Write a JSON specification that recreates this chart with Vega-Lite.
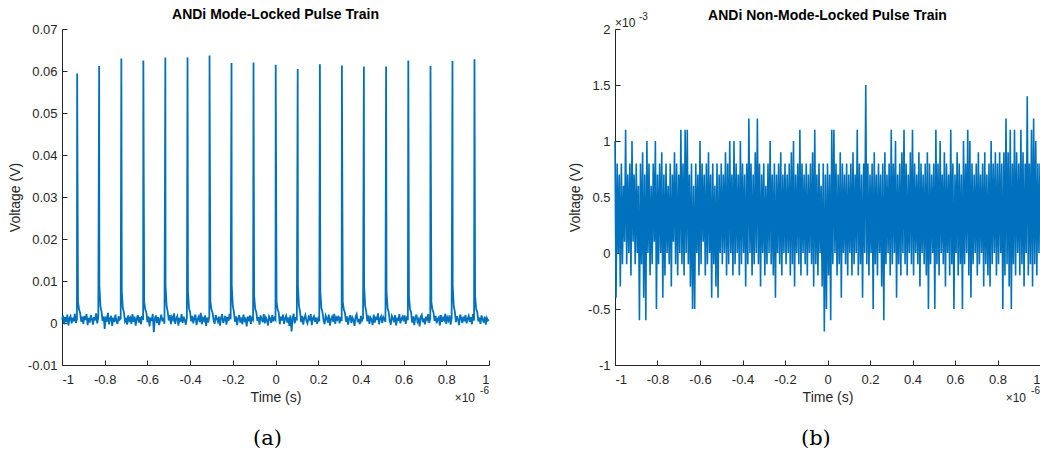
{
"$schema": "https://vega.github.io/schema/vega-lite/v6.json",
"background": "white",
"padding": {"left": 8, "top": 8, "right": 0, "bottom": 0},
"spacing": 75,
"config": {
 "view": {"stroke": null},
 "font": "Liberation Sans",
 "axis": {"grid": false, "domainColor": "#262626", "tickColor": "#262626", "labelColor": "#262626", "titleColor": "#262626", "labelFont": "Liberation Sans", "titleFont": "Liberation Sans", "labelFontSize": 13, "titleFontSize": 14, "titleFontWeight": "normal", "tickSize": -5, "domainWidth": 1, "tickWidth": 1},
 "axisX": {"labelPadding": 13, "titlePadding": 4},
 "axisY": {"labelPadding": 10, "titlePadding": 5}
},
"datasets": {
 "a": [
{"t":-1,"v":0.0008},{"t":-0.995,"v":0.0018},{"t":-0.99,"v":-0.0003},{"t":-0.985,"v":0.0014},{"t":-0.98,"v":0.0002},{"t":-0.975,"v":0.002},{"t":-0.97,"v":-0.0006},{"t":-0.965,"v":0.0011},{"t":-0.96,"v":0.0016},{"t":-0.955,"v":-0.0001},{"t":-0.95,"v":0.0013},{"t":-0.945,"v":0.0004},{"t":-0.94,"v":0.0022},{"t":-0.935,"v":0},{"t":-0.93,"v":0.0009},{"t":-0.929,"v":0.0594},{"t":-0.925,"v":0.005},{"t":-0.92,"v":0.0032},{"t":-0.915,"v":0.0024},{"t":-0.91,"v":0.0003},{"t":-0.905,"v":0.0015},
{"t":-0.9,"v":-0.0002},{"t":-0.895,"v":0.0017},{"t":-0.89,"v":0.0007},{"t":-0.885,"v":0.0021},{"t":-0.88,"v":-0.0005},{"t":-0.875,"v":0.0012},{"t":-0.87,"v":0.0001},{"t":-0.865,"v":0.0019},{"t":-0.86,"v":0.001},{"t":-0.855,"v":-0.0004},{"t":-0.85,"v":0.0014},{"t":-0.845,"v":0.0006},{"t":-0.84,"v":0.0023},{"t":-0.835,"v":-0.0001},{"t":-0.83,"v":0.0012},{"t":-0.826,"v":0.0612},{"t":-0.825,"v":0.009},{"t":-0.82,"v":0.004},{"t":-0.815,"v":0.0027},{"t":-0.81,"v":0.0005},{"t":-0.805,"v":0.0016},
{"t":-0.8,"v":-0.0014},{"t":-0.795,"v":0.0015},{"t":-0.79,"v":0.0003},{"t":-0.785,"v":0.0024},{"t":-0.78,"v":-0.0003},{"t":-0.775,"v":0.001},{"t":-0.77,"v":0.0017},{"t":-0.765,"v":-0.0007},{"t":-0.76,"v":0.0013},{"t":-0.755,"v":0.0002},{"t":-0.75,"v":0.002},{"t":-0.745,"v":0.0005},{"t":-0.74,"v":-0.0002},{"t":-0.735,"v":0.0016},{"t":-0.73,"v":0.0008},{"t":-0.725,"v":0.0011},{"t":-0.722,"v":0.063},{"t":-0.72,"v":0.0075},{"t":-0.715,"v":0.0035},{"t":-0.71,"v":0.0026},{"t":-0.705,"v":0.0004},
{"t":-0.7,"v":0.0009},{"t":-0.695,"v":-0.0004},{"t":-0.69,"v":0.0018},{"t":-0.685,"v":0.0006},{"t":-0.68,"v":0.0012},{"t":-0.675,"v":-0.0002},{"t":-0.67,"v":0.0021},{"t":-0.665,"v":0.0003},{"t":-0.66,"v":0.0015},{"t":-0.655,"v":-0.0006},{"t":-0.65,"v":0.001},{"t":-0.645,"v":0.0019},{"t":-0.64,"v":0.0001},{"t":-0.635,"v":0.0014},{"t":-0.63,"v":-0.0003},{"t":-0.625,"v":0.0017},{"t":-0.62,"v":0.0007},{"t":-0.619,"v":0.0625},{"t":-0.615,"v":0.005},{"t":-0.61,"v":0.0032},{"t":-0.605,"v":0.0025},
{"t":-0.6,"v":0.0002},{"t":-0.595,"v":0.0016},{"t":-0.59,"v":-0.0008},{"t":-0.585,"v":0.0013},{"t":-0.58,"v":0.0005},{"t":-0.575,"v":0.0022},{"t":-0.57,"v":-0.0022},{"t":-0.565,"v":0.0011},{"t":-0.56,"v":0.0018},{"t":-0.555,"v":0},{"t":-0.55,"v":0.0014},{"t":-0.545,"v":-0.0005},{"t":-0.54,"v":0.0009},{"t":-0.535,"v":0.002},{"t":-0.53,"v":0.0004},{"t":-0.525,"v":0.0012},{"t":-0.52,"v":-0.0002},{"t":-0.516,"v":0.0632},{"t":-0.515,"v":0.009},{"t":-0.51,"v":0.004},{"t":-0.505,"v":0.0027},
{"t":-0.5,"v":0.0006},{"t":-0.495,"v":0.0019},{"t":-0.49,"v":-0.0003},{"t":-0.485,"v":0.0014},{"t":-0.48,"v":0.0008},{"t":-0.475,"v":0.0023},{"t":-0.47,"v":-0.0002},{"t":-0.465,"v":0.001},{"t":-0.46,"v":0.0016},{"t":-0.455,"v":-0.0006},{"t":-0.45,"v":0.0012},{"t":-0.445,"v":0.0003},{"t":-0.44,"v":0.0021},{"t":-0.435,"v":0},{"t":-0.43,"v":0.0015},{"t":-0.425,"v":0.0007},{"t":-0.42,"v":-0.0004},{"t":-0.415,"v":0.0013},{"t":-0.412,"v":0.0632},{"t":-0.41,"v":0.0075},{"t":-0.405,"v":0.0035},
{"t":-0.4,"v":0.0026},{"t":-0.395,"v":0.0004},{"t":-0.39,"v":0.0017},{"t":-0.385,"v":-0.0001},{"t":-0.38,"v":0.0012},{"t":-0.375,"v":0.002},{"t":-0.37,"v":-0.0005},{"t":-0.365,"v":0.0009},{"t":-0.36,"v":0.0015},{"t":-0.355,"v":0.0002},{"t":-0.35,"v":0.0024},{"t":-0.345,"v":-0.0003},{"t":-0.34,"v":0.0011},{"t":-0.335,"v":0.0006},{"t":-0.33,"v":0.0018},{"t":-0.325,"v":-0.0007},{"t":-0.32,"v":0.0013},{"t":-0.315,"v":0.0001},{"t":-0.31,"v":0.0016},{"t":-0.309,"v":0.0637},{"t":-0.305,"v":0.005},
{"t":-0.3,"v":0.0032},{"t":-0.295,"v":0.0025},{"t":-0.29,"v":0.0007},{"t":-0.285,"v":-0.0002},{"t":-0.28,"v":0.0019},{"t":-0.275,"v":0.001},{"t":-0.27,"v":0.0003},{"t":-0.265,"v":0.0015},{"t":-0.26,"v":-0.0006},{"t":-0.255,"v":0.0012},{"t":-0.25,"v":0.0021},{"t":-0.245,"v":0},{"t":-0.24,"v":0.0008},{"t":-0.235,"v":0.0017},{"t":-0.23,"v":-0.0004},{"t":-0.225,"v":0.0014},{"t":-0.22,"v":0.0005},{"t":-0.215,"v":0.0022},{"t":-0.21,"v":0.0009},{"t":-0.206,"v":0.0619},{"t":-0.205,"v":0.009},
{"t":-0.2,"v":0.004},{"t":-0.195,"v":0.0027},{"t":-0.19,"v":0.0003},{"t":-0.185,"v":0.0016},{"t":-0.18,"v":-0.0005},{"t":-0.175,"v":0.0011},{"t":-0.17,"v":0.0019},{"t":-0.165,"v":0.0001},{"t":-0.16,"v":0.0013},{"t":-0.155,"v":-0.0003},{"t":-0.15,"v":0.002},{"t":-0.145,"v":0.0006},{"t":-0.14,"v":0.001},{"t":-0.135,"v":-0.0008},{"t":-0.13,"v":0.0015},{"t":-0.125,"v":0.0004},{"t":-0.12,"v":0.0018},{"t":-0.115,"v":-0.0002},{"t":-0.11,"v":0.0012},{"t":-0.105,"v":0.0008},{"t":-0.103,"v":0.062},
{"t":-0.1,"v":0.0065},{"t":-0.095,"v":0.0033},{"t":-0.09,"v":0.0026},{"t":-0.085,"v":0.0005},{"t":-0.08,"v":0.0014},{"t":-0.075,"v":-0.0004},{"t":-0.07,"v":0.0018},{"t":-0.065,"v":0.0009},{"t":-0.06,"v":0.0002},{"t":-0.055,"v":0.0021},{"t":-0.05,"v":-0.0001},{"t":-0.045,"v":0.0013},{"t":-0.04,"v":0.0007},{"t":-0.035,"v":-0.0006},{"t":-0.03,"v":0.0016},{"t":-0.025,"v":0.0011},{"t":-0.02,"v":0},{"t":-0.015,"v":0.0019},{"t":-0.01,"v":0.0004},{"t":-0.005,"v":0.0012},
{"t":0,"v":0.0008},{"t":0.001,"v":0.0615},{"t":0.005,"v":0.005},{"t":0.01,"v":0.0032},{"t":0.015,"v":0.0025},{"t":0.02,"v":-0.0003},{"t":0.025,"v":0.0015},{"t":0.03,"v":0.0006},{"t":0.035,"v":0.002},{"t":0.04,"v":-0.0002},{"t":0.045,"v":0.0011},{"t":0.05,"v":0.0017},{"t":0.055,"v":0.0001},{"t":0.06,"v":0.0013},{"t":0.065,"v":-0.0007},{"t":0.07,"v":0.0018},{"t":0.075,"v":-0.002},{"t":0.08,"v":0.001},{"t":0.085,"v":0.0022},{"t":0.09,"v":-0.0001},{"t":0.095,"v":0.0014},
{"t":0.1,"v":0.0006},{"t":0.104,"v":0.0605},{"t":0.105,"v":0.009},{"t":0.11,"v":0.004},{"t":0.115,"v":0.0027},{"t":0.12,"v":0.0002},{"t":0.125,"v":0.0017},{"t":0.13,"v":-0.0004},{"t":0.135,"v":0.0012},{"t":0.14,"v":0.0019},{"t":0.145,"v":0.0005},{"t":0.15,"v":-0.0001},{"t":0.155,"v":0.0014},{"t":0.16,"v":0.0009},{"t":0.165,"v":0.0021},{"t":0.17,"v":-0.0005},{"t":0.175,"v":0.0011},{"t":0.18,"v":0.0016},{"t":0.185,"v":0.0003},{"t":0.19,"v":0.0013},{"t":0.195,"v":-0.0002},
{"t":0.2,"v":0.001},{"t":0.205,"v":0.0004},{"t":0.208,"v":0.0616},{"t":0.21,"v":0.0075},{"t":0.215,"v":0.0035},{"t":0.22,"v":0.0026},{"t":0.225,"v":0.0007},{"t":0.23,"v":-0.0003},{"t":0.235,"v":0.0018},{"t":0.24,"v":0.0012},{"t":0.245,"v":0.0001},{"t":0.25,"v":0.002},{"t":0.255,"v":-0.0006},{"t":0.26,"v":0.0009},{"t":0.265,"v":0.0015},{"t":0.27,"v":0.0003},{"t":0.275,"v":0.0022},{"t":0.28,"v":-0.0002},{"t":0.285,"v":0.0013},{"t":0.29,"v":0.0008},{"t":0.295,"v":0.0017},
{"t":0.3,"v":-0.0001},{"t":0.305,"v":0.0014},{"t":0.31,"v":0.0005},{"t":0.311,"v":0.0613},{"t":0.315,"v":0.005},{"t":0.32,"v":0.0032},{"t":0.325,"v":0.0025},{"t":0.33,"v":0.0003},{"t":0.335,"v":0.0016},{"t":0.34,"v":-0.0004},{"t":0.345,"v":0.0011},{"t":0.35,"v":0.0019},{"t":0.355,"v":0},{"t":0.36,"v":0.0013},{"t":0.365,"v":0.0007},{"t":0.37,"v":-0.0007},{"t":0.375,"v":0.0015},{"t":0.38,"v":0.0021},{"t":0.385,"v":0.0002},{"t":0.39,"v":0.001},{"t":0.395,"v":-0.0003},
{"t":0.4,"v":0.0017},{"t":0.405,"v":0.0006},{"t":0.41,"v":0.0012},{"t":0.414,"v":0.0611},{"t":0.415,"v":0.009},{"t":0.42,"v":0.004},{"t":0.425,"v":0.0027},{"t":0.43,"v":0.0004},{"t":0.435,"v":0.0018},{"t":0.44,"v":-0.0002},{"t":0.445,"v":0.0013},{"t":0.45,"v":0.0009},{"t":0.455,"v":-0.0005},{"t":0.46,"v":0.002},{"t":0.465,"v":0.0001},{"t":0.47,"v":0.0015},{"t":0.475,"v":0.0007},{"t":0.48,"v":0.0023},{"t":0.485,"v":-0.0003},{"t":0.49,"v":0.0011},{"t":0.495,"v":0.0016},
{"t":0.5,"v":0},{"t":0.505,"v":0.0014},{"t":0.51,"v":0.0008},{"t":0.515,"v":0.0003},{"t":0.518,"v":0.0611},{"t":0.52,"v":0.0075},{"t":0.525,"v":0.0035},{"t":0.53,"v":0.0026},{"t":0.535,"v":0.0006},{"t":0.54,"v":-0.0004},{"t":0.545,"v":0.0017},{"t":0.55,"v":0.0011},{"t":0.555,"v":0.0002},{"t":0.56,"v":0.0019},{"t":0.565,"v":-0.0006},{"t":0.57,"v":0.0013},{"t":0.575,"v":0.0005},{"t":0.58,"v":0.0021},{"t":0.585,"v":-0.0001},{"t":0.59,"v":0.001},{"t":0.595,"v":0.0015},
{"t":0.6,"v":0.0004},{"t":0.605,"v":0.0018},{"t":0.61,"v":-0.0002},{"t":0.615,"v":0.0012},{"t":0.62,"v":0.0007},{"t":0.622,"v":0.0625},{"t":0.625,"v":0.0065},{"t":0.63,"v":0.0033},{"t":0.635,"v":0.0026},{"t":0.64,"v":0.0001},{"t":0.645,"v":0.0016},{"t":0.65,"v":-0.0005},{"t":0.655,"v":0.0013},{"t":0.66,"v":0.002},{"t":0.665,"v":0.0003},{"t":0.67,"v":0.0009},{"t":0.675,"v":-0.0008},{"t":0.68,"v":0.0014},{"t":0.685,"v":0.0019},{"t":0.69,"v":0.0002},{"t":0.695,"v":0.0011},
{"t":0.7,"v":-0.0003},{"t":0.705,"v":0.0015},{"t":0.71,"v":0.0008},{"t":0.715,"v":0.0021},{"t":0.72,"v":0},{"t":0.725,"v":0.0012},{"t":0.726,"v":0.0612},{"t":0.73,"v":0.005},{"t":0.735,"v":0.0032},{"t":0.74,"v":0.0025},{"t":0.745,"v":0.0005},{"t":0.75,"v":0.0017},{"t":0.755,"v":-0.0001},{"t":0.76,"v":0.001},{"t":0.765,"v":0.0014},{"t":0.77,"v":-0.0006},{"t":0.775,"v":0.0019},{"t":0.78,"v":0.0003},{"t":0.785,"v":0.0012},{"t":0.79,"v":0.0007},{"t":0.795,"v":0.0022},
{"t":0.8,"v":-0.0002},{"t":0.805,"v":0.0013},{"t":0.81,"v":0.0006},{"t":0.815,"v":0.0018},{"t":0.82,"v":-0.0004},{"t":0.825,"v":0.0011},{"t":0.829,"v":0.0624},{"t":0.83,"v":0.009},{"t":0.835,"v":0.004},{"t":0.84,"v":0.0027},{"t":0.845,"v":0.0002},{"t":0.85,"v":0.0016},{"t":0.855,"v":0.0008},{"t":0.86,"v":-0.0005},{"t":0.865,"v":0.002},{"t":0.87,"v":0.0012},{"t":0.875,"v":0},{"t":0.88,"v":0.0015},{"t":0.885,"v":0.0004},{"t":0.89,"v":0.0019},{"t":0.895,"v":-0.0001},
{"t":0.9,"v":0.001},{"t":0.905,"v":0.0017},{"t":0.91,"v":0.0003},{"t":0.915,"v":0.0014},{"t":0.92,"v":-0.0003},{"t":0.925,"v":0.0021},{"t":0.93,"v":0.0006},{"t":0.932,"v":0.0628},{"t":0.935,"v":0.0065},{"t":0.94,"v":0.0033},{"t":0.945,"v":0.0026},{"t":0.95,"v":0.0004},{"t":0.955,"v":0.0013},{"t":0.96,"v":-0.0002},{"t":0.965,"v":0.0018},{"t":0.97,"v":0.0009},{"t":0.975,"v":0.0001},{"t":0.98,"v":0.0015},{"t":0.985,"v":-0.0004},{"t":0.99,"v":0.0012},{"t":0.995,"v":0.0006},{"t":1,"v":0.0008}
 ],
 "b": [
{"t":-1,"v":1.0},{"t":-0.995,"v":-0.4},{"t":-0.99,"v":0.8},{"t":-0.985,"v":0},{"t":-0.98,"v":0.7},{"t":-0.975,"v":-0.3},{"t":-0.97,"v":0.8},{"t":-0.965,"v":-0.1},{"t":-0.96,"v":0.6},{"t":-0.955,"v":0.1},{"t":-0.95,"v":1.1},{"t":-0.945,"v":-0.1},{"t":-0.94,"v":0.7},{"t":-0.935,"v":0},{"t":-0.93,"v":0.8},{"t":-0.925,"v":-0.2},{"t":-0.92,"v":1.0},{"t":-0.915,"v":0.1},{"t":-0.91,"v":0.7},{"t":-0.905,"v":-0.1},
{"t":-0.9,"v":0.8},{"t":-0.895,"v":0},{"t":-0.89,"v":0.6},{"t":-0.885,"v":-0.6},{"t":-0.88,"v":0.8},{"t":-0.875,"v":-0.1},{"t":-0.87,"v":0.9},{"t":-0.865,"v":-0.4},{"t":-0.86,"v":0.7},{"t":-0.855,"v":-0.6},{"t":-0.85,"v":1.0},{"t":-0.845,"v":0},{"t":-0.84,"v":0.8},{"t":-0.835,"v":-0.2},{"t":-0.83,"v":0.6},{"t":-0.825,"v":-0.1},{"t":-0.82,"v":0.8},{"t":-0.815,"v":0.1},{"t":-0.81,"v":1.0},{"t":-0.805,"v":-0.5},
{"t":-0.8,"v":0.7},{"t":-0.795,"v":-0.1},{"t":-0.79,"v":0.8},{"t":-0.785,"v":0},{"t":-0.78,"v":0.9},{"t":-0.775,"v":-0.4},{"t":-0.77,"v":0.7},{"t":-0.765,"v":-0.2},{"t":-0.76,"v":0.8},{"t":-0.755,"v":0},{"t":-0.75,"v":0.6},{"t":-0.745,"v":-0.1},{"t":-0.74,"v":0.8},{"t":-0.735,"v":-0.3},{"t":-0.73,"v":0.7},{"t":-0.725,"v":0.1},{"t":-0.72,"v":0.9},{"t":-0.715,"v":-0.1},{"t":-0.71,"v":0.8},{"t":-0.705,"v":-0.2},
{"t":-0.7,"v":0.7},{"t":-0.695,"v":0},{"t":-0.69,"v":1.1},{"t":-0.685,"v":-0.1},{"t":-0.68,"v":0.8},{"t":-0.675,"v":-0.2},{"t":-0.67,"v":1.1},{"t":-0.665,"v":0},{"t":-0.66,"v":1.1},{"t":-0.655,"v":-0.1},{"t":-0.65,"v":0.7},{"t":-0.645,"v":-0.3},{"t":-0.64,"v":0.8},{"t":-0.635,"v":-0.5},{"t":-0.63,"v":0.6},{"t":-0.625,"v":-0.5},{"t":-0.62,"v":0.8},{"t":-0.615,"v":0},{"t":-0.61,"v":0.7},{"t":-0.605,"v":-0.2},
{"t":-0.6,"v":1.0},{"t":-0.595,"v":-0.1},{"t":-0.59,"v":0.8},{"t":-0.585,"v":0.1},{"t":-0.58,"v":0.7},{"t":-0.575,"v":-0.2},{"t":-0.57,"v":0.8},{"t":-0.565,"v":-0.1},{"t":-0.56,"v":0.9},{"t":-0.555,"v":0},{"t":-0.55,"v":0.7},{"t":-0.545,"v":-0.4},{"t":-0.54,"v":0.8},{"t":-0.535,"v":-0.1},{"t":-0.53,"v":0.6},{"t":-0.525,"v":-0.3},{"t":-0.52,"v":0.8},{"t":-0.515,"v":-0.4},{"t":-0.51,"v":0.7},{"t":-0.505,"v":0},
{"t":-0.5,"v":0.8},{"t":-0.495,"v":-0.1},{"t":-0.49,"v":0.7},{"t":-0.485,"v":0},{"t":-0.48,"v":0.9},{"t":-0.475,"v":-0.2},{"t":-0.47,"v":0.8},{"t":-0.465,"v":-0.1},{"t":-0.46,"v":1.0},{"t":-0.455,"v":0},{"t":-0.45,"v":0.7},{"t":-0.445,"v":-0.2},{"t":-0.44,"v":1.0},{"t":-0.435,"v":-0.1},{"t":-0.43,"v":0.8},{"t":-0.425,"v":0},{"t":-0.42,"v":0.7},{"t":-0.415,"v":-0.2},{"t":-0.41,"v":1.0},{"t":-0.405,"v":-0.1},
{"t":-0.4,"v":0.8},{"t":-0.395,"v":0},{"t":-0.39,"v":0.7},{"t":-0.385,"v":-0.3},{"t":-0.38,"v":0.8},{"t":-0.375,"v":-0.1},{"t":-0.37,"v":1.2},{"t":-0.365,"v":0},{"t":-0.36,"v":0.8},{"t":-0.355,"v":-0.2},{"t":-0.35,"v":0.7},{"t":-0.345,"v":-0.1},{"t":-0.34,"v":0.9},{"t":-0.335,"v":0},{"t":-0.33,"v":1.2},{"t":-0.325,"v":-0.1},{"t":-0.32,"v":0.8},{"t":-0.315,"v":-0.3},{"t":-0.31,"v":0.7},{"t":-0.305,"v":0},
{"t":-0.3,"v":0.8},{"t":-0.295,"v":-0.2},{"t":-0.29,"v":0.6},{"t":-0.285,"v":-0.1},{"t":-0.28,"v":0.8},{"t":-0.275,"v":0},{"t":-0.27,"v":1.0},{"t":-0.265,"v":-0.1},{"t":-0.26,"v":0.7},{"t":-0.255,"v":-0.2},{"t":-0.25,"v":0.8},{"t":-0.245,"v":-0.4},{"t":-0.24,"v":0.7},{"t":-0.235,"v":0},{"t":-0.23,"v":0.8},{"t":-0.225,"v":-0.1},{"t":-0.22,"v":0.9},{"t":-0.215,"v":-0.2},{"t":-0.21,"v":0.7},{"t":-0.205,"v":0},
{"t":-0.2,"v":0.8},{"t":-0.195,"v":-0.1},{"t":-0.19,"v":0.7},{"t":-0.185,"v":0},{"t":-0.18,"v":0.8},{"t":-0.175,"v":-0.2},{"t":-0.17,"v":0.9},{"t":-0.165,"v":-0.1},{"t":-0.16,"v":1.0},{"t":-0.155,"v":-0.3},{"t":-0.15,"v":0.7},{"t":-0.145,"v":0},{"t":-0.14,"v":0.8},{"t":-0.135,"v":-0.1},{"t":-0.13,"v":1.1},{"t":-0.125,"v":-0.2},{"t":-0.12,"v":0.8},{"t":-0.115,"v":0},{"t":-0.11,"v":0.7},{"t":-0.105,"v":-0.1},
{"t":-0.1,"v":0.8},{"t":-0.095,"v":-0.2},{"t":-0.09,"v":0.7},{"t":-0.085,"v":0},{"t":-0.08,"v":0.8},{"t":-0.075,"v":-0.1},{"t":-0.07,"v":0.9},{"t":-0.065,"v":-0.3},{"t":-0.06,"v":1.1},{"t":-0.055,"v":-0.1},{"t":-0.05,"v":0.7},{"t":-0.045,"v":-0.2},{"t":-0.04,"v":0.8},{"t":-0.035,"v":0},{"t":-0.03,"v":0.6},{"t":-0.025,"v":-0.3},{"t":-0.02,"v":0.8},{"t":-0.015,"v":-0.7},{"t":-0.01,"v":0.7},{"t":-0.005,"v":-0.5},
{"t":0,"v":0.8},{"t":0.005,"v":-0.2},{"t":0.01,"v":0.7},{"t":0.015,"v":-0.6},{"t":0.02,"v":1.1},{"t":0.025,"v":-0.1},{"t":0.03,"v":1.1},{"t":0.035,"v":0},{"t":0.04,"v":0.8},{"t":0.045,"v":-0.2},{"t":0.05,"v":0.7},{"t":0.055,"v":-0.1},{"t":0.06,"v":0.9},{"t":0.065,"v":-0.4},{"t":0.07,"v":0.8},{"t":0.075,"v":0},{"t":0.08,"v":0.7},{"t":0.085,"v":-0.1},{"t":0.09,"v":0.8},{"t":0.095,"v":-0.2},
{"t":0.1,"v":0.7},{"t":0.105,"v":0},{"t":0.11,"v":0.8},{"t":0.115,"v":-0.2},{"t":0.12,"v":0.9},{"t":0.125,"v":-0.1},{"t":0.13,"v":0.7},{"t":0.135,"v":0},{"t":0.14,"v":1.1},{"t":0.145,"v":-0.2},{"t":0.15,"v":0.8},{"t":0.155,"v":-0.1},{"t":0.16,"v":0.7},{"t":0.165,"v":-0.4},{"t":0.17,"v":0.8},{"t":0.175,"v":0},{"t":0.18,"v":1.5},{"t":0.185,"v":-0.1},{"t":0.19,"v":0.8},{"t":0.195,"v":-0.2},
{"t":0.2,"v":0.7},{"t":0.205,"v":0},{"t":0.21,"v":0.8},{"t":0.215,"v":-0.5},{"t":0.22,"v":0.9},{"t":0.225,"v":-0.1},{"t":0.23,"v":0.7},{"t":0.235,"v":-0.2},{"t":0.24,"v":0.8},{"t":0.245,"v":0},{"t":0.25,"v":0.7},{"t":0.255,"v":-0.3},{"t":0.26,"v":0.8},{"t":0.265,"v":-0.6},{"t":0.27,"v":0.9},{"t":0.275,"v":-0.1},{"t":0.28,"v":0.7},{"t":0.285,"v":0},{"t":0.29,"v":0.8},{"t":0.295,"v":-0.2},
{"t":0.3,"v":1.1},{"t":0.305,"v":-0.1},{"t":0.31,"v":0.8},{"t":0.315,"v":0},{"t":0.32,"v":1.0},{"t":0.325,"v":-0.4},{"t":0.33,"v":0.7},{"t":0.335,"v":-0.1},{"t":0.34,"v":0.8},{"t":0.345,"v":-0.2},{"t":0.35,"v":0.9},{"t":0.355,"v":0},{"t":0.36,"v":1.1},{"t":0.365,"v":-0.1},{"t":0.37,"v":0.8},{"t":0.375,"v":-0.2},{"t":0.38,"v":0.7},{"t":0.385,"v":0},{"t":0.39,"v":0.9},{"t":0.395,"v":-0.1},
{"t":0.4,"v":1.1},{"t":0.405,"v":-0.2},{"t":0.41,"v":0.8},{"t":0.415,"v":0},{"t":0.42,"v":0.7},{"t":0.425,"v":-0.1},{"t":0.43,"v":0.9},{"t":0.435,"v":-0.3},{"t":0.44,"v":0.8},{"t":0.445,"v":0},{"t":0.45,"v":0.7},{"t":0.455,"v":-0.1},{"t":0.46,"v":0.8},{"t":0.465,"v":-0.2},{"t":0.47,"v":0.9},{"t":0.475,"v":-0.5},{"t":0.48,"v":0.8},{"t":0.485,"v":-0.1},{"t":0.49,"v":0.7},{"t":0.495,"v":0},
{"t":0.5,"v":0.8},{"t":0.505,"v":-0.5},{"t":0.51,"v":1.1},{"t":0.515,"v":-0.1},{"t":0.52,"v":0.8},{"t":0.525,"v":-0.2},{"t":0.53,"v":1.0},{"t":0.535,"v":0},{"t":0.54,"v":0.7},{"t":0.545,"v":-0.1},{"t":0.55,"v":0.9},{"t":0.555,"v":-0.3},{"t":0.56,"v":0.8},{"t":0.565,"v":0},{"t":0.57,"v":0.7},{"t":0.575,"v":-0.2},{"t":0.58,"v":1.1},{"t":0.585,"v":-0.1},{"t":0.59,"v":0.8},{"t":0.595,"v":-0.5},
{"t":0.6,"v":0.7},{"t":0.605,"v":0},{"t":0.61,"v":0.9},{"t":0.615,"v":-0.2},{"t":0.62,"v":0.8},{"t":0.625,"v":-0.1},{"t":0.63,"v":0.7},{"t":0.635,"v":-0.5},{"t":0.64,"v":1.0},{"t":0.645,"v":-0.1},{"t":0.65,"v":0.8},{"t":0.655,"v":0},{"t":0.66,"v":1.1},{"t":0.665,"v":-0.2},{"t":0.67,"v":1.0},{"t":0.675,"v":-0.4},{"t":0.68,"v":0.8},{"t":0.685,"v":-0.1},{"t":0.69,"v":0.7},{"t":0.695,"v":0},
{"t":0.7,"v":0.8},{"t":0.705,"v":-0.2},{"t":0.71,"v":0.9},{"t":0.715,"v":-0.1},{"t":0.72,"v":0.7},{"t":0.725,"v":0},{"t":0.73,"v":0.8},{"t":0.735,"v":-0.3},{"t":0.74,"v":0.9},{"t":0.745,"v":-0.1},{"t":0.75,"v":0.7},{"t":0.755,"v":-0.2},{"t":0.76,"v":0.8},{"t":0.765,"v":-0.3},{"t":0.77,"v":1.0},{"t":0.775,"v":-0.1},{"t":0.78,"v":0.8},{"t":0.785,"v":0},{"t":0.79,"v":0.9},{"t":0.795,"v":-0.2},
{"t":0.8,"v":0.8},{"t":0.805,"v":-0.1},{"t":0.81,"v":0.9},{"t":0.815,"v":0},{"t":0.82,"v":0.8},{"t":0.825,"v":-0.5},{"t":0.83,"v":0.9},{"t":0.835,"v":-0.2},{"t":0.84,"v":1.2},{"t":0.845,"v":-0.1},{"t":0.85,"v":0.9},{"t":0.855,"v":-0.3},{"t":0.86,"v":1.1},{"t":0.865,"v":-0.5},{"t":0.87,"v":0.8},{"t":0.875,"v":-0.1},{"t":0.88,"v":1.1},{"t":0.885,"v":-0.2},{"t":0.89,"v":0.9},{"t":0.895,"v":0},
{"t":0.9,"v":0.8},{"t":0.905,"v":-0.2},{"t":0.91,"v":1.1},{"t":0.915,"v":-0.1},{"t":0.92,"v":0.9},{"t":0.925,"v":-0.3},{"t":0.93,"v":0.8},{"t":0.935,"v":0},{"t":0.94,"v":1.4},{"t":0.945,"v":-0.2},{"t":0.95,"v":0.8},{"t":0.955,"v":-0.1},{"t":0.96,"v":1.1},{"t":0.965,"v":-0.3},{"t":0.97,"v":1.2},{"t":0.975,"v":-0.1},{"t":0.98,"v":1.0},{"t":0.985,"v":-0.2},{"t":0.99,"v":0.8},{"t":0.995,"v":0},{"t":1,"v":0.8}
 ]
},
"hconcat": [
 {
  "title": {"text": "(a)", "orient": "bottom", "font": "DejaVu Serif", "fontSize": 21, "fontWeight": "normal", "color": "#000000", "anchor": "middle", "frame": "bounds", "dx": 17, "offset": 24},
  "vconcat": [{
   "width": 427, "height": 336,
   "title": {"text": "ANDi Mode-Locked Pulse Train", "font": "Liberation Sans", "fontSize": 14, "fontWeight": "bold", "color": "#000000", "anchor": "middle", "frame": "group", "offset": 1},
   "layer": [
    {"data": {"name": "a"}, "mark": {"type": "line", "color": "#0072BD", "strokeWidth": 1.8},
     "encoding": {
      "x": {"field": "t", "type": "quantitative", "scale": {"domain": [-1, 1], "nice": false}, "axis": {"values": [-1,-0.8,-0.6,-0.4,-0.2,0,0.2,0.4,0.6,0.8,1], "labelExpr": "'' + datum.value", "title": "Time (s)"}},
      "y": {"field": "v", "type": "quantitative", "scale": {"domain": [-0.01, 0.07], "nice": false, "zero": false}, "axis": {"values": [-0.01,0,0.01,0.02,0.03,0.04,0.05,0.06,0.07], "labelExpr": "'' + datum.value", "title": "Voltage (V)"}}
     }},
    {"data": {"values": [{"label": "×10"}]}, "mark": {"type": "text", "align": "right", "baseline": "middle", "dx": -14, "dy": 33, "fontSize": 12, "color": "#262626"},
     "encoding": {"x": {"datum": 1, "type": "quantitative"}, "y": {"datum": -0.01, "type": "quantitative"}, "text": {"field": "label"}}},
    {"data": {"values": [{"label": "-6"}]}, "mark": {"type": "text", "align": "right", "baseline": "middle", "dx": 0, "dy": 26, "fontSize": 10, "color": "#262626"},
     "encoding": {"x": {"datum": 1, "type": "quantitative"}, "y": {"datum": -0.01, "type": "quantitative"}, "text": {"field": "label"}}}
   ]
  }]
 },
 {
  "title": {"text": "(b)", "orient": "bottom", "font": "DejaVu Serif", "fontSize": 21, "fontWeight": "normal", "color": "#000000", "anchor": "middle", "frame": "bounds", "dx": 10, "offset": 24},
  "vconcat": [{
   "width": 425, "height": 336,
   "title": {"text": "ANDi Non-Mode-Locked Pulse Train", "font": "Liberation Sans", "fontSize": 14, "fontWeight": "bold", "color": "#000000", "anchor": "middle", "frame": "group", "offset": -11},
   "layer": [
    {"data": {"name": "b"}, "mark": {"type": "line", "color": "#0072BD", "strokeWidth": 1.6},
     "encoding": {
      "x": {"field": "t", "type": "quantitative", "scale": {"domain": [-1, 1], "nice": false}, "axis": {"values": [-1,-0.8,-0.6,-0.4,-0.2,0,0.2,0.4,0.6,0.8,1], "labelExpr": "'' + datum.value", "title": "Time (s)"}},
      "y": {"field": "v", "type": "quantitative", "scale": {"domain": [-1, 2], "nice": false, "zero": false}, "axis": {"values": [-1,-0.5,0,0.5,1,1.5,2], "labelExpr": "'' + datum.value", "title": "Voltage (V)"}}
     }},
    {"data": {"values": [{"label": "×10"}]}, "mark": {"type": "text", "align": "left", "baseline": "middle", "dx": 0, "dy": -6, "fontSize": 12, "color": "#262626"},
     "encoding": {"x": {"datum": -1, "type": "quantitative"}, "y": {"datum": 2, "type": "quantitative"}, "text": {"field": "label"}}},
    {"data": {"values": [{"label": "-3"}]}, "mark": {"type": "text", "align": "left", "baseline": "middle", "dx": 24, "dy": -12, "fontSize": 10, "color": "#262626"},
     "encoding": {"x": {"datum": -1, "type": "quantitative"}, "y": {"datum": 2, "type": "quantitative"}, "text": {"field": "label"}}},
    {"data": {"values": [{"label": "×10"}]}, "mark": {"type": "text", "align": "right", "baseline": "middle", "dx": -14, "dy": 33, "fontSize": 12, "color": "#262626"},
     "encoding": {"x": {"datum": 1, "type": "quantitative"}, "y": {"datum": -1, "type": "quantitative"}, "text": {"field": "label"}}},
    {"data": {"values": [{"label": "-6"}]}, "mark": {"type": "text", "align": "right", "baseline": "middle", "dx": 0, "dy": 26, "fontSize": 10, "color": "#262626"},
     "encoding": {"x": {"datum": 1, "type": "quantitative"}, "y": {"datum": -1, "type": "quantitative"}, "text": {"field": "label"}}}
   ]
  }]
 }
]
}
